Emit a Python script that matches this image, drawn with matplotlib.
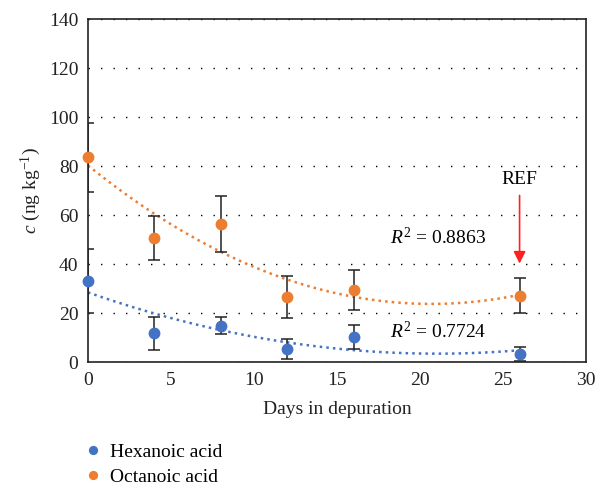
import matplotlib.pyplot as plt
import numpy as np

plt.rcParams['font.family'] = ['Liberation Serif', 'DejaVu Serif']
plt.rcParams['mathtext.fontset'] = 'custom'
plt.rcParams['mathtext.rm'] = 'Liberation Serif'
plt.rcParams['mathtext.it'] = 'Liberation Serif:italic'

days = [0, 4, 8, 12, 16, 26]
hexanoic = [33.2, 11.8, 14.9, 5.4, 10.3, 3.3]
hexanoic_err = [13.0, 6.7, 3.5, 4.0, 4.9, 2.8]
octanoic = [83.6, 50.5, 56.4, 26.6, 29.3, 27.1]
octanoic_err = [14.0, 9.0, 11.5, 8.6, 8.2, 7.2]

r2_labels = ['$R^2$ = 0.7724', '$R^2$ = 0.8863']

blue = '#4472C4'
orange = '#ED7D31'
fs = 14

fig = plt.figure(figsize=(6.01, 4.90), dpi=100)
ax = fig.add_axes([0.1464, 0.2612, 0.8286, 0.6998])

xfit = np.linspace(0, 26, 200)
for y, err, col, name in [(hexanoic, hexanoic_err, blue, 'Hexanoic acid'),
                          (octanoic, octanoic_err, orange, 'Octanoic acid')]:
    ax.errorbar(days, y, yerr=err, fmt='none', ecolor='#222222', elinewidth=1.1,
                capsize=4, capthick=1.1, zorder=3)
    ax.plot(days, y, 'o', color=col, markersize=7.5, zorder=4, label=name,
            clip_on=False)
    p = np.polyfit(days, y, 2)
    ax.plot(xfit, np.polyval(p, xfit), ':', color=col, lw=1.8, zorder=2)

ax.text(21.1, 12.4, r2_labels[0], fontsize=fs, ha='center', va='center')
ax.text(21.1, 51, r2_labels[1], fontsize=fs, ha='center', va='center')

ax.annotate('', xy=(26, 40.2), xytext=(26, 68),
            arrowprops=dict(arrowstyle='-|>', color='#FF2020', lw=1.2,
                            mutation_scale=18, shrinkA=0, shrinkB=0))
ax.text(26, 74.5, 'REF', fontsize=fs, ha='center', va='center')

ax.set_xlim(0, 30)
ax.set_ylim(0, 140)
ax.set_xticks(range(0, 31, 5))
ax.set_yticks(range(0, 141, 20))
ax.tick_params(length=0, labelsize=fs, pad=7, colors='#222222')
ax.grid(axis='y', linestyle=(0, (1, 8)), color='black', lw=1.0)
for s in ax.spines.values():
    s.set_color('#222222')
    s.set_linewidth(1.2)

ax.set_xlabel('Days in depuration', fontsize=fs, labelpad=9, color='#222222')
ax.set_ylabel(r'$c$ (ng kg$^{-1}$)', fontsize=fs, color='#222222')

fig.legend(loc='upper left', bbox_to_anchor=(0.135, 0.096), frameon=False,
           fontsize=fs, handletextpad=0.3, labelspacing=0.4, markerscale=0.75,
           handlelength=1.2, borderaxespad=0, borderpad=0)

fig.savefig('out.png', dpi=100)
